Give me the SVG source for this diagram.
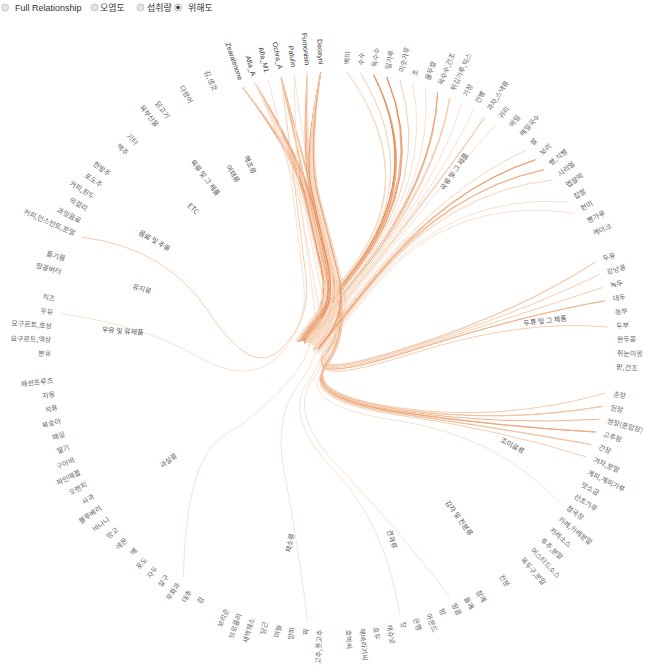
<svg xmlns="http://www.w3.org/2000/svg" width="653" height="670" viewBox="0 0 653 670">
<style>
text{font-family:"Noto Sans CJK KR","Liberation Sans",sans-serif}
.l{font-size:7px;fill:#666;dominant-baseline:middle}
.e{text-anchor:end}
.hz{font-family:"Liberation Sans","Noto Sans CJK KR",sans-serif;fill:#333}
.g{font-size:7px;fill:#555;dominant-baseline:middle}
.hd{font-size:9px;fill:#333}
#links path{fill:none;stroke-width:0.9}
.w1{stroke:#f8ddca}
.w2{stroke:#f4c6a6}
.w3{stroke:#eeaa7e}
.w4{stroke:#e48a52}
.w5{stroke:#c9642a}
</style>
<rect width="653" height="670" fill="#fff"/>
<g id="header">
<circle cx="5" cy="7.5" r="3.5" fill="#e4e4e4" stroke="#bbb" stroke-width="0.8"/>
<text class="hd" x="15" y="10.5" style="font-family:'Liberation Sans',sans-serif">Full Relationship</text>
<circle cx="94.5" cy="7.5" r="3.5" fill="#e4e4e4" stroke="#bbb" stroke-width="0.8"/>
<text class="hd" x="100" y="10.5">오염도</text>
<circle cx="140.5" cy="7.5" r="3.5" fill="#e4e4e4" stroke="#bbb" stroke-width="0.8"/>
<text class="hd" x="147" y="10.5">섭취량</text>
<circle cx="178" cy="7.5" r="3.5" fill="#eee" stroke="#aaa" stroke-width="0.8"/>
<circle cx="178" cy="7.5" r="1.7" fill="#333"/>
<text class="hd" x="188" y="10.5">위해도</text>
</g>
<g transform="translate(334,347)">
<g id="links">
<path class="w5" d="M-91.3 -259.4Q-40.3 -192.2 -31.2 -154.1T-13 -78T-29.2 -12T18.3 -76.4T39.7 -272.1"/>
<path class="w3" d="M-91.3 -259.4Q-40 -192.1 -30.7 -154T-12.2 -77.8T-28.1 -11.8T19.8 -76.2T52.8 -269.9"/>
<path class="w4" d="M-91.3 -259.4Q-38.7 -191.7 -28.8 -153.5T-9 -76.9T-23.7 -10.4T25.5 -74.4T103.7 -254.7"/>
<path class="w2" d="M-91.3 -259.4Q-38.4 -191.6 -28.4 -153.3T-8.2 -76.5T-22.6 -10T26.9 -73.9T115.9 -249.4"/>
<path class="w2" d="M-91.3 -259.4Q-37.6 -191.1 -27.1 -152.5T-6.1 -75.3T-19.5 -8.3T30.8 -71.7T150.7 -230"/>
<path class="w1" d="M-91.3 -259.4Q-36.5 -190.3 -25.5 -151.3T-3.5 -73.3T-15.9 -5.4T35.4 -67.9T192.1 -196.8"/>
<path class="w2" d="M-91.3 -259.4Q-36.3 -190 -25.2 -150.9T-2.9 -72.7T-15.1 -4.5T36.5 -66.9T201.4 -187.3"/>
<path class="w3" d="M-91.3 -259.4Q-36.1 -189.8 -24.8 -150.6T-2.3 -72T-14.3 -3.7T37.5 -65.7T210.2 -177.3"/>
<path class="w1" d="M-91.3 -259.4Q-35.9 -189.5 -24.5 -150.2T-1.8 -71.4T-13.6 -2.8T38.4 -64.6T218.5 -167"/>
<path class="w2" d="M-91.3 -259.4Q-34.8 -187.5 -22.9 -147.1T0.9 -66.3T-9.8 4.4T76.3 -0.6T261.5 -85"/>
<path class="w2" d="M-91.3 -259.4Q-34.6 -186.5 -22.5 -145.6T1.5 -63.8T-9 7.8T77.4 3.7T271.1 -46.3"/>
<path class="w2" d="M-78.6 -263.5Q-39.4 -192.7 -30.8 -154.7T-13.5 -78.5T-30.8 -12.4T15.8 -76.8T13.3 -274.7"/>
<path class="w4" d="M-78.6 -263.5Q-38.8 -192.7 -29.8 -154.6T-11.9 -78.3T-28.5 -12.2T18.8 -76.6T39.7 -272.1"/>
<path class="w1" d="M-78.6 -263.5Q-35 -190.8 -24.1 -151.7T-2.4 -73.6T-15.1 -5.6T35.9 -68.1T192.1 -196.8"/>
<path class="w1" d="M-78.6 -263.5Q-33.9 -189.5 -22.5 -149.8T0.2 -70.4T-11.5 -1.1T40.6 -62.3T233.6 -145.1"/>
<path class="w1" d="M-78.6 -263.5Q-33.7 -189.2 -22.3 -149.4T0.7 -69.7T-10.9 -0.1T41.3 -61T240.3 -133.7"/>
<path class="w2" d="M-78.6 -263.5Q-33.1 -187.7 -21.3 -147.1T2.2 -65.8T-8.7 5.3T77.2 0.7T265.3 -72.3"/>
<path class="w2" d="M-78.6 -263.5Q-33 -187.3 -21.2 -146.6T2.4 -65T-8.4 6.4T77.6 2.1T268.5 -59.4"/>
<path class="w3" d="M-78.6 -263.5Q-33 -187 -21.1 -146.1T2.6 -64.2T-8.2 7.6T77.9 3.6T271.1 -46.3"/>
<path class="w2" d="M-78.6 -263.5Q-33 -184.7 -21.1 -142.6T2.6 -58.4T-8.2 15.7T68.6 61.3T271.1 46.3"/>
<path class="w3" d="M-78.6 -263.5Q-33 -184.4 -21.2 -142.1T2.4 -57.6T-8.4 16.8T68.3 62.7T268.5 59.4"/>
<path class="w3" d="M-78.6 -263.5Q-33.1 -184.1 -21.3 -141.7T2.2 -56.8T-8.7 17.9T68 64.2T265.3 72.3"/>
<path class="w4" d="M-78.6 -263.5Q-33.2 -183.7 -21.5 -141.2T2 -56T-9 19T67.6 65.6T261.5 85"/>
<path class="w3" d="M-78.6 -263.5Q-33.3 -183.4 -21.7 -140.7T1.7 -55.2T-9.4 20.1T67.1 67T257.1 97.5"/>
<path class="w2" d="M-78.6 -263.5Q-33.5 -183.1 -21.8 -140.2T1.4 -54.5T-9.9 21.2T66.5 68.4T252.1 109.8"/>
<path class="w1" d="M-78.6 -263.5Q-34.1 -182 -22.8 -138.5T-0.2 -51.6T-12.1 25.3T63.6 73.6T226.3 156.2"/>
<path class="w1" d="M-78.6 -263.5Q-36.9 -179.6 -26.9 -135T-7.1 -45.7T-21.8 33.4T5.4 120.9T115.9 249.4"/>
<path class="w1" d="M-78.6 -263.5Q-38.1 -179.2 -28.8 -134.4T-10.3 -44.6T-26.2 35T-0.3 122.9T65.8 267"/>
<path class="w1" d="M-78.6 -263.5Q-40.4 -179 -32.3 -134.1T-16 -44.2T-34.3 35.6T-49.8 125.1T-26.5 273.7"/>
<path class="w1" d="M-65.8 -267Q-45 -187.1 -40.1 -146T-30.3 -63.7T-55 8.5T-137.9 8.7T-273 -33.2"/>
<path class="w1" d="M-52.8 -269.9Q-36.2 -193.5 -27.9 -155.4T-11.3 -79T-29.2 -12.8T16.8 -77.1T13.3 -274.7"/>
<path class="w2" d="M-52.8 -269.9Q-35.9 -193.5 -27.4 -155.3T-10.4 -79T-28 -12.7T18.3 -77T26.5 -273.7"/>
<path class="w3" d="M-52.8 -269.9Q-35.2 -193.4 -26.4 -155.2T-8.8 -78.7T-25.7 -12.4T21.2 -76.5T52.8 -269.9"/>
<path class="w1" d="M-52.8 -269.9Q-31.5 -191.3 -20.8 -152.1T0.5 -73.6T-12.7 -5.2T37.9 -67.3T201.4 -187.3"/>
<path class="w2" d="M-52.8 -269.9Q-29.7 -187.2 -18.1 -145.8T5 -63.1T-6.3 9.5T79.2 6.3T274.3 -19.9"/>
<path class="w2" d="M-52.8 -269.9Q-29.8 -185.2 -18.3 -142.9T4.7 -58.2T-6.8 16.4T69.3 62.5T268.5 59.4"/>
<path class="w3" d="M-52.8 -269.9Q-30 -184.5 -18.6 -141.9T4.3 -56.6T-7.4 18.7T68.5 65.4T261.5 85"/>
<path class="w2" d="M-52.8 -269.9Q-30.1 -184.2 -18.7 -141.4T4 -55.8T-7.8 19.7T68 66.8T257.1 97.5"/>
<path class="w2" d="M-52.8 -269.9Q-42.8 -189.4 -37.8 -149.2T-27.9 -68.7T-52.4 1.6T-124.5 -33.9T-252.1 -109.8"/>
<path class="w1" d="M-39.7 -272.1Q-38.7 -181.2 -32.6 -136.7T-20.4 -47.7T-42.7 31.2T-109.6 88T-150.7 230"/>
<path class="w1" d="M-39.7 -272.1Q-29.6 -191.4 -19 -152T2.2 -73.1T-11.1 -4.5T39.4 -66.2T210.2 -177.3"/>
<path class="w4" d="M-26.5 -273.7Q-32.3 -193.9 -23.9 -155.7T-7.3 -79.2T-25.2 -12.9T20.7 -76.9T39.7 -272.1"/>
<path class="w2" d="M-26.5 -273.7Q-31.6 -193.8 -23 -155.5T-5.7 -78.9T-22.9 -12.4T23.7 -76.4T65.8 -267"/>
<path class="w3" d="M-26.5 -273.7Q-30.7 -193.5 -21.5 -155.1T-3.3 -78.1T-19.6 -11.3T27.9 -75T103.7 -254.7"/>
<path class="w2" d="M-26.5 -273.7Q-29.5 -192.9 -19.8 -154.1T-0.4 -76.6T-15.5 -9.2T33.2 -72.2T150.7 -230"/>
<path class="w1" d="M-26.5 -273.7Q-27.8 -191.3 -17.2 -151.8T3.9 -72.6T-9.6 -3.7T40.8 -65.1T218.5 -167"/>
<path class="w3" d="M-13.3 -274.7Q-30.6 -194.1 -22.5 -155.8T-6.2 -79.3T-24.4 -12.9T21.2 -77T39.7 -272.1"/>
<path class="w4" d="M-13.3 -274.7Q-30.3 -194 -22 -155.7T-5.4 -79.2T-23.2 -12.7T22.7 -76.7T52.8 -269.9"/>
<path class="w1" d="M-13.3 -274.7Q-29.6 -193.9 -21 -155.5T-3.7 -78.8T-21 -12.2T25.6 -76T78.6 -263.5"/>
<path class="w1" d="M-13.3 -274.7Q-29.3 -193.8 -20.5 -155.4T-3 -78.5T-19.9 -11.8T27 -75.5T91.3 -259.4"/>
<path class="w2" d="M-13.3 -274.7Q-28.7 -193.5 -19.6 -155T-1.4 -77.9T-17.7 -10.9T29.8 -74.4T115.9 -249.4"/>
<path class="w1" d="M-13.3 -274.7Q-28.4 -193.4 -19.2 -154.8T-0.7 -77.5T-16.7 -10.4T31.1 -73.8T127.8 -243.5"/>
<path class="w1" d="M-13.3 -274.7Q-28.1 -193.2 -18.7 -154.5T0.1 -77.1T-15.7 -9.8T32.4 -73T139.4 -237"/>
<path class="w1" d="M-13.3 -274.7Q-27.5 -192.8 -17.9 -154T1.5 -76.2T-13.7 -8.6T34.9 -71.4T161.6 -222.5"/>
<path class="w4" d="M-13.3 -274.7Q-26.6 -191.9 -16.4 -152.6T3.9 -74T-10.2 -5.5T39.4 -67.4T201.4 -187.3"/>
<path class="w3" d="M-13.3 -274.7Q-26.3 -191.7 -16.1 -152.3T4.5 -73.4T-9.5 -4.6T40.4 -66.3T210.2 -177.3"/>
<path class="w2" d="M-13.3 -274.7Q-25 -189.4 -14.1 -148.8T7.7 -67.6T-5 3.5T79.3 -1.2T261.5 -85"/>
</g>
<g id="group-labels">
<g id="grp-cereal"><text class="g" transform="rotate(-55.38)translate(191)">곡류 및 그 제품</text></g>
<g id="grp-legume"><text class="g" transform="rotate(-6.92)translate(191)">두류 및 그 제품</text></g>
<g id="grp-season"><text class="g" transform="rotate(29.08)translate(191)">조미료류</text></g>
<g id="grp-potato"><text class="g" transform="rotate(54)translate(191)">감자 및 전분류</text></g>
<g id="grp-nuts"><text class="g" transform="rotate(73.38)translate(191)">견과류</text></g>
<g id="grp-veg"><text class="g e" transform="rotate(102.46)translate(191)rotate(180)">채소류</text></g>
<g id="grp-fruit"><text class="g e" transform="rotate(145.38)translate(191)rotate(180)">과실류</text></g>
<g id="grp-dairy"><text class="g e" transform="rotate(184.15)translate(191)rotate(180)">우유 및 유제품</text></g>
<g id="grp-oil"><text class="g e" transform="rotate(196.62)translate(191)rotate(180)">유지류</text></g>
<g id="grp-bev"><text class="g e" transform="rotate(210.46)translate(191)rotate(180)">음료 및 주류</text></g>
<g id="grp-etc"><text class="g e" transform="rotate(224.31)translate(191)rotate(180)">ETC</text></g>
<g id="grp-meat"><text class="g e" transform="rotate(232.62)translate(191)rotate(180)">육류 및 그 제품</text></g>
<g id="grp-fish"><text class="g e" transform="rotate(239.54)translate(191)rotate(180)">어패류</text></g>
<g id="grp-seaweed"><text class="g e" transform="rotate(245.08)translate(191)rotate(180)">해조류</text></g>
</g>
<g id="leaves">
<g id="leaf-001"><text class="l" transform="rotate(-87.23)translate(283)">백미</text></g>
<g id="leaf-002"><text class="l" transform="rotate(-84.46)translate(283)">수수</text></g>
<g id="leaf-003"><text class="l" transform="rotate(-81.69)translate(283)">옥수수</text></g>
<g id="leaf-004"><text class="l" transform="rotate(-78.92)translate(283)">밀가루</text></g>
<g id="leaf-005"><text class="l" transform="rotate(-76.15)translate(283)">미숫가루</text></g>
<g id="leaf-006"><text class="l" transform="rotate(-73.38)translate(283)">조</text></g>
<g id="leaf-007"><text class="l" transform="rotate(-70.62)translate(283)">율무쌀</text></g>
<g id="leaf-008"><text class="l" transform="rotate(-67.85)translate(283)">옥수수,건조</text></g>
<g id="leaf-009"><text class="l" transform="rotate(-65.08)translate(283)">튀김가루,믹스</text></g>
<g id="leaf-010"><text class="l" transform="rotate(-62.31)translate(283)">기장</text></g>
<g id="leaf-011"><text class="l" transform="rotate(-59.54)translate(283)">건빵</text></g>
<g id="leaf-012"><text class="l" transform="rotate(-56.77)translate(283)">과자,스낵류</text></g>
<g id="leaf-013"><text class="l" transform="rotate(-54)translate(283)">귀리</text></g>
<g id="leaf-014"><text class="l" transform="rotate(-51.23)translate(283)">메밀</text></g>
<g id="leaf-015"><text class="l" transform="rotate(-48.46)translate(283)">메밀국수</text></g>
<g id="leaf-016"><text class="l" transform="rotate(-45.69)translate(283)">쌀</text></g>
<g id="leaf-017"><text class="l" transform="rotate(-42.92)translate(283)">보리</text></g>
<g id="leaf-018"><text class="l" transform="rotate(-40.15)translate(283)">빵,식빵</text></g>
<g id="leaf-019"><text class="l" transform="rotate(-37.38)translate(283)">시리얼</text></g>
<g id="leaf-020"><text class="l" transform="rotate(-34.62)translate(283)">멥쌀떡</text></g>
<g id="leaf-021"><text class="l" transform="rotate(-31.85)translate(283)">찹쌀</text></g>
<g id="leaf-022"><text class="l" transform="rotate(-29.08)translate(283)">현미</text></g>
<g id="leaf-023"><text class="l" transform="rotate(-26.31)translate(283)">빵가루</text></g>
<g id="leaf-024"><text class="l" transform="rotate(-23.54)translate(283)">케이크</text></g>
<g id="leaf-026"><text class="l" transform="rotate(-18)translate(283)">두유</text></g>
<g id="leaf-027"><text class="l" transform="rotate(-15.23)translate(283)">강낭콩</text></g>
<g id="leaf-028"><text class="l" transform="rotate(-12.46)translate(283)">녹두</text></g>
<g id="leaf-029"><text class="l" transform="rotate(-9.69)translate(283)">대두</text></g>
<g id="leaf-030"><text class="l" transform="rotate(-6.92)translate(283)">동부</text></g>
<g id="leaf-031"><text class="l" transform="rotate(-4.15)translate(283)">두부</text></g>
<g id="leaf-032"><text class="l" transform="rotate(-1.38)translate(283)">완두콩</text></g>
<g id="leaf-033"><text class="l" transform="rotate(1.38)translate(283)">쥐눈이콩</text></g>
<g id="leaf-034"><text class="l" transform="rotate(4.15)translate(283)">팥,건조</text></g>
<g id="leaf-036"><text class="l" transform="rotate(9.69)translate(283)">춘장</text></g>
<g id="leaf-037"><text class="l" transform="rotate(12.46)translate(283)">된장</text></g>
<g id="leaf-038"><text class="l" transform="rotate(15.23)translate(283)">쌈장(혼합장)</text></g>
<g id="leaf-039"><text class="l" transform="rotate(18)translate(283)">고추장</text></g>
<g id="leaf-040"><text class="l" transform="rotate(20.77)translate(283)">간장</text></g>
<g id="leaf-041"><text class="l" transform="rotate(23.54)translate(283)">겨자,분말</text></g>
<g id="leaf-042"><text class="l" transform="rotate(26.31)translate(283)">계피,계피가루</text></g>
<g id="leaf-043"><text class="l" transform="rotate(29.08)translate(283)">맛소금</text></g>
<g id="leaf-044"><text class="l" transform="rotate(31.85)translate(283)">산초가루</text></g>
<g id="leaf-045"><text class="l" transform="rotate(34.62)translate(283)">청국장</text></g>
<g id="leaf-046"><text class="l" transform="rotate(37.38)translate(283)">카레,카레분말</text></g>
<g id="leaf-047"><text class="l" transform="rotate(40.15)translate(283)">카레소스</text></g>
<g id="leaf-048"><text class="l" transform="rotate(42.92)translate(283)">후추,분말</text></g>
<g id="leaf-049"><text class="l" transform="rotate(45.69)translate(283)">머스타드소스</text></g>
<g id="leaf-050"><text class="l" transform="rotate(48.46)translate(283)">육두구,분말</text></g>
<g id="leaf-052"><text class="l" transform="rotate(54)translate(283)">전분</text></g>
<g id="leaf-054"><text class="l" transform="rotate(59.54)translate(283)">참깨</text></g>
<g id="leaf-055"><text class="l" transform="rotate(62.31)translate(283)">들깨</text></g>
<g id="leaf-056"><text class="l" transform="rotate(65.08)translate(283)">땅콩</text></g>
<g id="leaf-057"><text class="l" transform="rotate(67.85)translate(283)">밤</text></g>
<g id="leaf-058"><text class="l" transform="rotate(70.62)translate(283)">아몬드</text></g>
<g id="leaf-059"><text class="l" transform="rotate(73.38)translate(283)">은행</text></g>
<g id="leaf-060"><text class="l" transform="rotate(76.15)translate(283)">잣</text></g>
<g id="leaf-061"><text class="l" transform="rotate(78.92)translate(283)">캐슈넛</text></g>
<g id="leaf-062"><text class="l" transform="rotate(81.69)translate(283)">호두</text></g>
<g id="leaf-063"><text class="l" transform="rotate(84.46)translate(283)">해바라기씨</text></g>
<g id="leaf-064"><text class="l" transform="rotate(87.23)translate(283)">호박씨</text></g>
<g id="leaf-066"><text class="l e" transform="rotate(92.77)translate(283)rotate(180)">고추,풋고추</text></g>
<g id="leaf-067"><text class="l e" transform="rotate(95.54)translate(283)rotate(180)">파</text></g>
<g id="leaf-068"><text class="l e" transform="rotate(98.31)translate(283)rotate(180)">양파</text></g>
<g id="leaf-069"><text class="l e" transform="rotate(101.08)translate(283)rotate(180)">마늘</text></g>
<g id="leaf-070"><text class="l e" transform="rotate(103.85)translate(283)rotate(180)">당근</text></g>
<g id="leaf-071"><text class="l e" transform="rotate(106.62)translate(283)rotate(180)">새싹채소</text></g>
<g id="leaf-072"><text class="l e" transform="rotate(109.38)translate(283)rotate(180)">브로콜리</text></g>
<g id="leaf-073"><text class="l e" transform="rotate(112.15)translate(283)rotate(180)">보리순</text></g>
<g id="leaf-075"><text class="l e" transform="rotate(117.69)translate(283)rotate(180)">감</text></g>
<g id="leaf-076"><text class="l e" transform="rotate(120.46)translate(283)rotate(180)">대추</text></g>
<g id="leaf-077"><text class="l e" transform="rotate(123.23)translate(283)rotate(180)">무화과</text></g>
<g id="leaf-078"><text class="l e" transform="rotate(126)translate(283)rotate(180)">살구</text></g>
<g id="leaf-079"><text class="l e" transform="rotate(128.77)translate(283)rotate(180)">자두</text></g>
<g id="leaf-080"><text class="l e" transform="rotate(131.54)translate(283)rotate(180)">포도</text></g>
<g id="leaf-081"><text class="l e" transform="rotate(134.31)translate(283)rotate(180)">배</text></g>
<g id="leaf-082"><text class="l e" transform="rotate(137.08)translate(283)rotate(180)">레몬</text></g>
<g id="leaf-083"><text class="l e" transform="rotate(139.85)translate(283)rotate(180)">망고</text></g>
<g id="leaf-084"><text class="l e" transform="rotate(142.62)translate(283)rotate(180)">바나나</text></g>
<g id="leaf-085"><text class="l e" transform="rotate(145.38)translate(283)rotate(180)">블루베리</text></g>
<g id="leaf-086"><text class="l e" transform="rotate(148.15)translate(283)rotate(180)">사과</text></g>
<g id="leaf-087"><text class="l e" transform="rotate(150.92)translate(283)rotate(180)">오렌지</text></g>
<g id="leaf-088"><text class="l e" transform="rotate(153.69)translate(283)rotate(180)">파인애플</text></g>
<g id="leaf-089"><text class="l e" transform="rotate(156.46)translate(283)rotate(180)">구아바</text></g>
<g id="leaf-090"><text class="l e" transform="rotate(159.23)translate(283)rotate(180)">딸기</text></g>
<g id="leaf-091"><text class="l e" transform="rotate(162)translate(283)rotate(180)">매실</text></g>
<g id="leaf-092"><text class="l e" transform="rotate(164.77)translate(283)rotate(180)">복숭아</text></g>
<g id="leaf-093"><text class="l e" transform="rotate(167.54)translate(283)rotate(180)">석류</text></g>
<g id="leaf-094"><text class="l e" transform="rotate(170.31)translate(283)rotate(180)">자몽</text></g>
<g id="leaf-095"><text class="l e" transform="rotate(173.08)translate(283)rotate(180)">패션프루츠</text></g>
<g id="leaf-097"><text class="l e" transform="rotate(178.62)translate(283)rotate(180)">분유</text></g>
<g id="leaf-098"><text class="l e" transform="rotate(181.38)translate(283)rotate(180)">요구르트,액상</text></g>
<g id="leaf-099"><text class="l e" transform="rotate(184.15)translate(283)rotate(180)">요구르트,호상</text></g>
<g id="leaf-100"><text class="l e" transform="rotate(186.92)translate(283)rotate(180)">우유</text></g>
<g id="leaf-101"><text class="l e" transform="rotate(189.69)translate(283)rotate(180)">치즈</text></g>
<g id="leaf-103"><text class="l e" transform="rotate(195.23)translate(283)rotate(180)">땅콩버터</text></g>
<g id="leaf-104"><text class="l e" transform="rotate(198)translate(283)rotate(180)">들기름</text></g>
<g id="leaf-106"><text class="l e" transform="rotate(203.54)translate(283)rotate(180)">커피,인스턴트,분말</text></g>
<g id="leaf-107"><text class="l e" transform="rotate(206.31)translate(283)rotate(180)">과일음료</text></g>
<g id="leaf-108"><text class="l e" transform="rotate(209.08)translate(283)rotate(180)">막걸리</text></g>
<g id="leaf-109"><text class="l e" transform="rotate(211.85)translate(283)rotate(180)">커피,원두</text></g>
<g id="leaf-110"><text class="l e" transform="rotate(214.62)translate(283)rotate(180)">포도주</text></g>
<g id="leaf-111"><text class="l e" transform="rotate(217.38)translate(283)rotate(180)">한방주</text></g>
<g id="leaf-113"><text class="l e" transform="rotate(222.92)translate(283)rotate(180)">맥주</text></g>
<g id="leaf-114"><text class="l e" transform="rotate(225.69)translate(283)rotate(180)">기타</text></g>
<g id="leaf-116"><text class="l e" transform="rotate(231.23)translate(283)rotate(180)">육부산물</text></g>
<g id="leaf-117"><text class="l e" transform="rotate(234)translate(283)rotate(180)">닭고기</text></g>
<g id="leaf-119"><text class="l e" transform="rotate(239.54)translate(283)rotate(180)">다랑어</text></g>
<g id="leaf-121"><text class="l e" transform="rotate(245.08)translate(283)rotate(180)">김,생것</text></g>
<g id="leaf-123"><text class="l e hz" transform="rotate(250.62)translate(283)rotate(180)">Zearalenone</text></g>
<g id="leaf-124"><text class="l e hz" transform="rotate(253.38)translate(283)rotate(180)">Afla_A</text></g>
<g id="leaf-125"><text class="l e hz" transform="rotate(256.15)translate(283)rotate(180)">Afla_M1</text></g>
<g id="leaf-126"><text class="l e hz" transform="rotate(258.92)translate(283)rotate(180)">Ochra_A</text></g>
<g id="leaf-127"><text class="l e hz" transform="rotate(261.69)translate(283)rotate(180)">Patulin</text></g>
<g id="leaf-128"><text class="l e hz" transform="rotate(264.46)translate(283)rotate(180)">Fumonisin</text></g>
<g id="leaf-129"><text class="l e hz" transform="rotate(267.23)translate(283)rotate(180)">Deoxyni</text></g>
</g>
</g>
</svg>
